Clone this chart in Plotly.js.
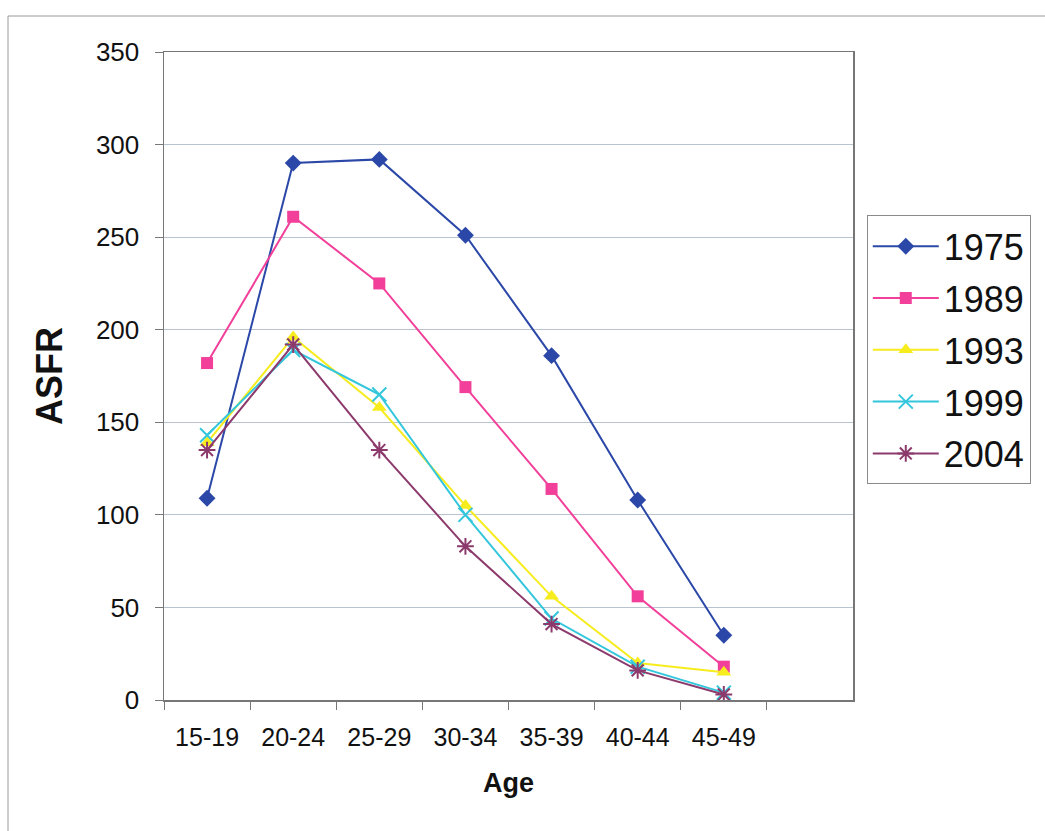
<!DOCTYPE html>
<html>
<head>
<meta charset="utf-8">
<script src="https://cdn.plot.ly/plotly-3.0.1.min.js"></script>
<style>
  html, body { margin: 0; padding: 0; background: #ffffff; }
  #chart { width: 1045px; height: 831px; }
</style>
</head>
<body>
<div id="chart"></div>
<script>
const ageGroups = ["15-19", "20-24", "25-29", "30-34", "35-39", "40-44", "45-49"];
const years = ["1975", "1989", "1993", "1999", "2004"];
const asfr1975 = [109, 290, 292, 251, 186, 108, 35];
const asfr1989 = [182, 261, 225, 169, 114, 56, 18];
const asfr1993 = [139, 196, 158, 105, 56, 20, 15];
const asfr1999 = [143, 189, 165, 100, 44, 18, 4];
const asfr2004 = [135, 192, 135, 83, 41, 16, 3];
const seriesValues = [asfr1975, asfr1989, asfr1993, asfr1999, asfr2004];

const colors = ["#2b48a8", "#f2409a", "#f6ec1e", "#33c6dc", "#8c3a6c"];
const symbols = ["diamond", "square", "triangle-up", "x-thin-open", "asterisk-open"];
const sizes = [13, 12, 13, 14, 14];

const traces = years.map((yr, i) => ({
  type: "scatter",
  mode: "lines+markers",
  name: yr,
  legendgroup: yr,
  x: ageGroups,
  y: seriesValues[i],
  line: { color: colors[i], width: 2 },
  marker: {
    symbol: symbols[i],
    size: sizes[i],
    color: colors[i],
    line: { color: colors[i], width: (i >= 3 ? 2 : 0) }
  }
}));

const layout = {
  width: 1045,
  height: 831,
  paper_bgcolor: "#ffffff",
  plot_bgcolor: "#ffffff",
  font: { family: "Liberation Sans, Arial, sans-serif", color: "#111111" },
  margin: { l: 164, r: 192, t: 52, b: 131, autoexpand: false },
  showlegend: true,
  legend: {
    x: 1.02, xanchor: "left",
    y: 0.748, yanchor: "top",
    bgcolor: "#ffffff",
    bordercolor: "#8a8a8a",
    borderwidth: 1,
    font: { size: 36, color: "#111111" },
    traceorder: "grouped",
    tracegroupgap: 2,
    itemwidth: 66
  },
  xaxis: {
    type: "category",
    categoryorder: "array",
    categoryarray: ageGroups,
    range: [-0.5, 7.5],
    tickson: "boundaries",
    ticks: "outside",
    ticklen: 8,
    tickcolor: "#777777",
    ticklabelstandoff: 14,
    showgrid: false,
    showline: true,
    linecolor: "#777777",
    linewidth: 1.5,
    mirror: true,
    tickfont: { size: 25, color: "#111111" },
    title: { text: "Age", font: { size: 27, color: "#111111", weight: "bold" }, standoff: 23 },
    zeroline: false,
    fixedrange: true
  },
  yaxis: {
    range: [0, 350],
    dtick: 50,
    tick0: 0,
    ticks: "outside",
    ticklen: 8,
    tickcolor: "#777777",
    ticklabelstandoff: 10,
    showgrid: true,
    gridcolor: "#b9c3cf",
    gridwidth: 1,
    showline: true,
    linecolor: "#777777",
    linewidth: 1.5,
    mirror: true,
    zeroline: false,
    tickfont: { size: 26, color: "#111111" },
    title: { text: "ASFR", font: { size: 36, color: "#111111", weight: "bold" }, standoff: 22 },
    fixedrange: true
  },
  shapes: [
    {
      type: "rect", xref: "paper", yref: "paper",
      x0: -156 / 689, x1: 1.3, y0: -0.25, y1: (700 - 16) / 648,
      line: { color: "#9a9a9a", width: 1 }, fillcolor: "rgba(0,0,0,0)", layer: "below"
    }
  ]
};

Plotly.newPlot("chart", traces, layout, { displayModeBar: false, staticPlot: true });
</script>
</body>
</html>
